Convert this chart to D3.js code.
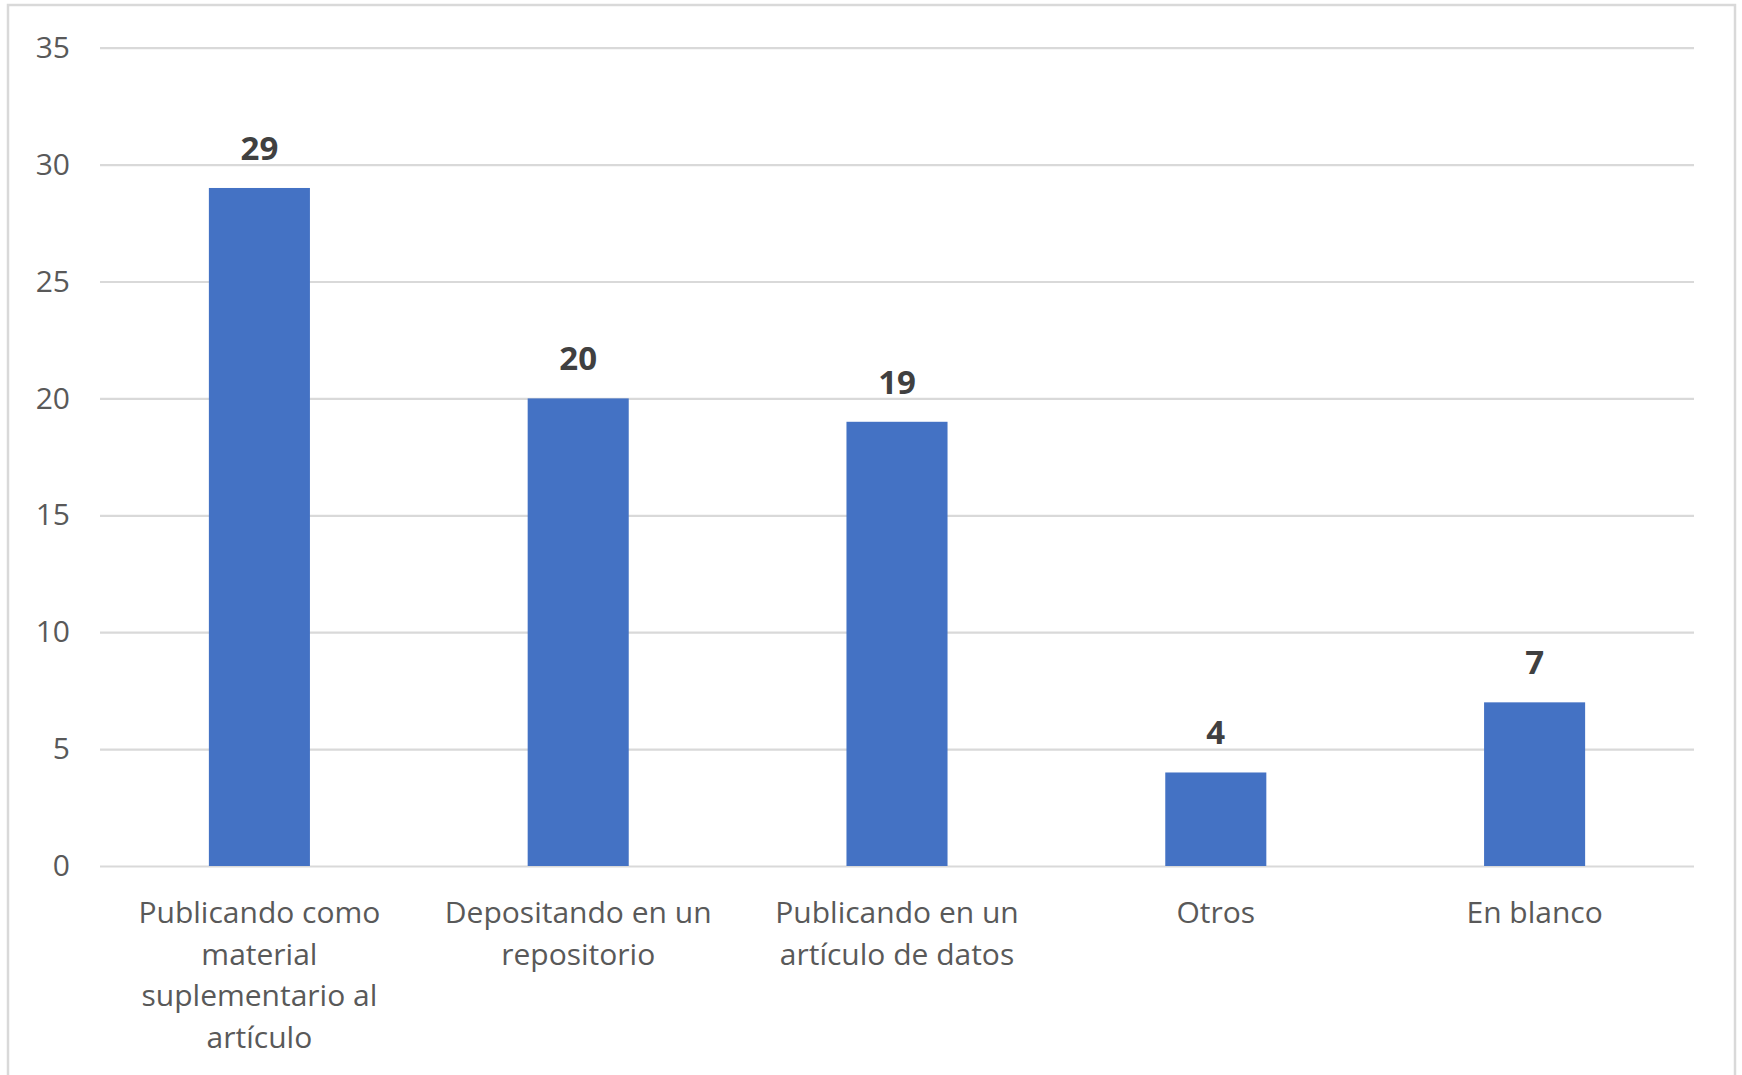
<!DOCTYPE html>
<html>
<head>
<meta charset="utf-8">
<script src="https://cdn.jsdelivr.net/npm/d3@7/dist/d3.min.js"></script>
<style>
  html, body { margin: 0; padding: 0; background: #fff; }
  svg { display: block; }
</style>
</head>
<body>
<svg id="chart" width="1742" height="1075"></svg>
<script>
// ---- data ----
const categories = [
  "Publicando como\nmaterial\nsuplementario al\nartículo",
  "Depositando en un\nrepositorio",
  "Publicando en un\nartículo de datos",
  "Otros",
  "En blanco"
];
const values = [29, 20, 19, 4, 7];
const yTicks = [0, 5, 10, 15, 20, 25, 30, 35];

// ---- layout ----
const W = 1742, H = 1075;
const margin = { left: 100, right: 48 };
const plotW = W - margin.left - margin.right;
const plotTop = 47.7, plotBottom = 866;

const svg = d3.select("#chart");
const font = "'Open Sans', 'Segoe UI', sans-serif";

// outer frame
svg.append("rect")
  .attr("x", 8).attr("y", 5)
  .attr("width", 1727).attr("height", 1090)
  .attr("fill", "#fff")
  .attr("stroke", "#d9d9d9").attr("stroke-width", 2.5);

const x = d3.scaleBand()
  .domain(categories)
  .range([margin.left, margin.left + plotW])
  .paddingInner(0.683).paddingOuter(0.3415);

const y = d3.scaleLinear().domain([0, 35]).range([plotBottom, plotTop]);

// gridlines + y labels via axis
const yAxis = d3.axisLeft(y).tickValues(yTicks).tickSize(-plotW).tickPadding(30).tickFormat(d3.format("d"));
const gy = svg.append("g").attr("transform", `translate(${margin.left},0)`).call(yAxis);
gy.select(".domain").remove();
gy.selectAll(".tick line").attr("stroke", "#d9d9d9").attr("stroke-width", 2.2);
gy.selectAll(".tick text")
  .attr("fill", "#595959")
  .style("font-family", font)
  .style("font-size", "30px");

// bars
svg.append("g").selectAll("rect")
  .data(values)
  .join("rect")
  .attr("x", (d, i) => x(categories[i]))
  .attr("y", d => y(d))
  .attr("width", x.bandwidth())
  .attr("height", d => y(0) - y(d))
  .attr("fill", "#4472C4");

// value labels
svg.append("g").selectAll("text")
  .data(values)
  .join("text")
  .attr("x", (d, i) => x(categories[i]) + x.bandwidth() / 2)
  .attr("y", d => y(d) - 28)
  .attr("text-anchor", "middle")
  .attr("fill", "#404040")
  .style("font-family", font)
  .style("font-weight", "bold")
  .style("font-size", "33px")
  .text(d => d);

// x category labels
const xAxis = d3.axisBottom(x).tickSize(0).tickPadding(0);
const gx = svg.append("g").attr("transform", `translate(0,${plotBottom})`).call(xAxis);
gx.select(".domain").remove();
gx.selectAll(".tick text").each(function(d) {
  const t = d3.select(this);
  t.text(null)
    .attr("y", 0)
    .attr("dy", null)
    .attr("fill", "#595959")
    .style("font-family", font)
    .style("font-size", "30px");
  d.split("\n").forEach((line, i) => {
    t.append("tspan")
      .attr("x", 0)
      .attr("y", 57 + i * 41.7)
      .text(line);
  });
});
</script>
</body>
</html>
